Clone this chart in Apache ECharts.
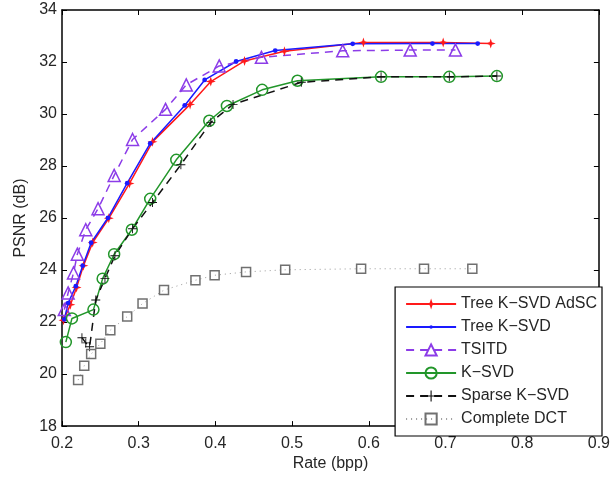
<!DOCTYPE html>
<html>
<head>
<meta charset="utf-8">
<script src="https://cdn.jsdelivr.net/npm/echarts@6/dist/echarts.min.js"></script>
<style>
  html, body { margin: 0; padding: 0; background: #fff; }
  #chart { width: 613px; height: 477px; }
</style>
</head>
<body>
<div id="chart"></div>
<script>
// values
var adscRate = [0.202, 0.211, 0.219, 0.228, 0.240, 0.261, 0.288, 0.318, 0.367, 0.394, 0.438, 0.490, 0.593, 0.697, 0.759];
var adscPsnr = [22.07, 22.67, 23.33, 24.17, 25.06, 25.99, 27.33, 28.93, 30.37, 31.25, 32.04, 32.41, 32.75, 32.75, 32.71];

var treeRate = [0.203, 0.208, 0.218, 0.227, 0.238, 0.260, 0.285, 0.315, 0.360, 0.386, 0.427, 0.478, 0.579, 0.683, 0.742];
var treePsnr = [22.10, 22.73, 23.38, 24.17, 25.05, 26.01, 27.34, 28.87, 30.33, 31.31, 32.02, 32.44, 32.70, 32.71, 32.71];

var tsitdRate = [0.203, 0.208, 0.215, 0.220, 0.231, 0.247, 0.268, 0.292, 0.335, 0.362, 0.405, 0.460, 0.566, 0.654, 0.713];
var tsitdPsnr = [22.48, 23.12, 23.89, 24.61, 25.55, 26.36, 27.64, 29.02, 30.18, 31.12, 31.85, 32.18, 32.43, 32.46, 32.46];

var ksvdRate = [0.205, 0.213, 0.241, 0.253, 0.268, 0.291, 0.315, 0.349, 0.392, 0.415, 0.461, 0.507, 0.616, 0.705, 0.767];
var ksvdPsnr = [21.23, 22.14, 22.48, 23.67, 24.61, 25.55, 26.74, 28.24, 29.74, 30.31, 30.93, 31.28, 31.43, 31.43, 31.46];

var sparseRate = [0.226, 0.231, 0.236, 0.244, 0.256, 0.269, 0.292, 0.318, 0.355, 0.394, 0.423, 0.512, 0.616, 0.705, 0.767];
var sparsePsnr = [21.40, 21.20, 21.05, 22.85, 23.67, 24.55, 25.59, 26.60, 28.05, 29.68, 30.37, 31.22, 31.43, 31.43, 31.46];

var dctRate = [0.221, 0.229, 0.238, 0.250, 0.263, 0.285, 0.305, 0.333, 0.374, 0.399, 0.440, 0.491, 0.590, 0.672, 0.735];
var dctPsnr = [19.77, 20.32, 20.77, 21.17, 21.69, 22.21, 22.71, 23.23, 23.61, 23.80, 23.93, 24.01, 24.05, 24.05, 24.05];

var xTicks = { min: 0.2, max: 0.9, step: 0.1 };
var yTicks = { min: 18, max: 34, step: 2 };

function pairs(xs, ys) {
  return xs.map(function (x, i) { return [x, ys[i]]; });
}

var star4 = 'path://M0,-10L2.4,-2.4L10,0L2.4,2.4L0,10L-2.4,2.4L-10,0L-2.4,-2.4Z';
var plus = 'path://M-1,-10H1V-1H10V1H1V10H-1V1H-10V-1H-1Z';
// small dot padded by empty corner points, so the legend copy stays small too
var dot = 'path://M-10,-10L-10,-10M10,10L10,10M3,0A3,3 0 1 1 -3,0A3,3 0 1 1 3,0Z';
var font = 'Liberation Sans';
var txt = '#262626';

var chart = echarts.init(document.getElementById('chart'));

function baseAxis(pos, ticks, showLabels) {
  return {
    type: 'value',
    position: pos,
    min: ticks.min,
    max: ticks.max,
    interval: ticks.step,
    axisLine: { show: true, onZero: false, lineStyle: { color: '#000', width: 1.5 } },
    axisTick: { show: true, inside: true, length: 5, lineStyle: { color: '#000', width: 1 } },
    axisLabel: { show: showLabels, color: txt, fontFamily: font, fontSize: 16 },
    splitLine: { show: false }
  };
}

var xMain = baseAxis('bottom', xTicks, true);
xMain.axisLabel.formatter = function (v) { return v.toFixed(1); };
xMain.axisLabel.margin = 9;
xMain.name = 'Rate (bpp)';
xMain.nameLocation = 'middle';
xMain.nameGap = 28;
xMain.nameTextStyle = { color: txt, fontFamily: font, fontSize: 16 };

var yMain = baseAxis('left', yTicks, true);
yMain.axisLabel.margin = 5;
yMain.name = 'PSNR (dB)';
yMain.nameLocation = 'middle';
yMain.nameGap = 30;
yMain.nameTextStyle = { color: txt, fontFamily: font, fontSize: 16 };

var option = {
  animation: false,
  backgroundColor: '#fff',
  grid: { left: 62, right: 11, top: 10, bottom: 41, containLabel: false },
  xAxis: [xMain, baseAxis('top', xTicks, false)],
  yAxis: [yMain, baseAxis('right', yTicks, false)],
  legend: {
    orient: 'vertical',
    right: 11,
    bottom: 41,
    backgroundColor: '#fff',
    borderColor: '#000',
    borderWidth: 1.2,
    borderRadius: 0,
    padding: [9, 5, 9, 10],
    itemWidth: 50,
    itemHeight: 14,
    itemGap: 7,
    textStyle: { color: txt, fontFamily: font, fontSize: 16 },
    data: ['Tree K\u2212SVD AdSC', 'Tree K\u2212SVD', 'TSITD', 'K\u2212SVD', 'Sparse K\u2212SVD', 'Complete DCT']
  },
  series: [
    {
      name: 'Tree K\u2212SVD AdSC', type: 'line', data: pairs(adscRate, adscPsnr),
      symbol: star4, symbolSize: 10,
      lineStyle: { color: '#ff1a1a', width: 1.5 },
      itemStyle: { color: '#ff1a1a' }
    },
    {
      name: 'Tree K\u2212SVD', type: 'line', data: pairs(treeRate, treePsnr),
      symbol: dot, symbolSize: 16,
      lineStyle: { color: '#1a1aff', width: 1.5 },
      itemStyle: { color: '#1a1aff' }
    },
    {
      name: 'TSITD', type: 'line', data: pairs(tsitdRate, tsitdPsnr),
      symbol: 'triangle', symbolSize: 12,
      lineStyle: { color: '#8c3ce8', width: 1.5, type: [8, 6] },
      itemStyle: { color: 'rgba(255,255,255,0)', borderColor: '#8c3ce8', borderWidth: 1.5 }
    },
    {
      name: 'K\u2212SVD', type: 'line', data: pairs(ksvdRate, ksvdPsnr),
      symbol: 'circle', symbolSize: 11,
      lineStyle: { color: '#22962a', width: 1.5 },
      itemStyle: { color: 'rgba(255,255,255,0)', borderColor: '#22962a', borderWidth: 1.5 }
    },
    {
      name: 'Sparse K\u2212SVD', type: 'line', data: pairs(sparseRate, sparsePsnr),
      symbol: plus, symbolSize: 9,
      lineStyle: { color: '#111', width: 1.5, type: [8, 6] },
      itemStyle: { color: '#111' }
    },
    {
      name: 'Complete DCT', type: 'line', data: pairs(dctRate, dctPsnr),
      symbol: 'rect', symbolSize: 9,
      lineStyle: { color: '#9a9a9a', width: 1, type: [1, 4] },
      itemStyle: { color: 'rgba(255,255,255,0)', borderColor: '#707070', borderWidth: 1.5 }
    }
  ]
};

chart.setOption(option);
</script>
</body>
</html>
